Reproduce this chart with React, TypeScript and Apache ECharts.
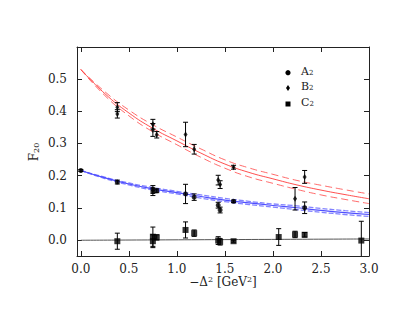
import React, { useEffect, useRef } from "react";
import * as echarts from "echarts";

// ---- tick values ----
const xTicks = [0, 0.5, 1.0, 1.5, 2.0, 2.5, 3.0];
const yTicks = [0, 0.1, 0.2, 0.3, 0.4, 0.5];

// ---- fit curves ----
const curveX = [0, 0.25, 0.5, 0.75, 1.0, 1.25, 1.5, 1.75, 2.0, 2.25, 2.5, 2.75, 3.0];
const b2Fit = [0.530, 0.455, 0.395, 0.347, 0.308, 0.270, 0.236, 0.210, 0.190, 0.171, 0.155, 0.141, 0.128];
const b2FitUpper = [0.530, 0.461, 0.404, 0.358, 0.320, 0.283, 0.249, 0.224, 0.204, 0.185, 0.170, 0.156, 0.143];
const b2FitLower = [0.530, 0.449, 0.386, 0.336, 0.296, 0.257, 0.223, 0.196, 0.176, 0.157, 0.140, 0.126, 0.113];
const a2Fit = [0.216, 0.193, 0.174, 0.159, 0.147, 0.135, 0.124, 0.115, 0.107, 0.100, 0.092, 0.085, 0.079];
const a2FitUpper = [0.216, 0.195, 0.177, 0.163, 0.151, 0.140, 0.129, 0.120, 0.112, 0.106, 0.098, 0.091, 0.085];
const a2FitLower = [0.216, 0.191, 0.171, 0.155, 0.143, 0.130, 0.119, 0.110, 0.102, 0.094, 0.086, 0.079, 0.073];
const c2FitX = [0, 1.5, 3.0];
const c2Fit = [-0.001, 0.001, 0.003];

// ---- data points ----
const a2X = [0.0, 0.38, 0.75, 0.75, 0.79, 1.09, 1.18, 1.43, 1.45, 1.59, 2.33];
const a2Y = [0.216, 0.180, 0.157, 0.150, 0.153, 0.143, 0.133, 0.108, 0.093, 0.120, 0.100];
const a2Err = [0.003, 0.006, 0.012, 0.012, 0.006, 0.030, 0.010, 0.009, 0.009, 0.004, 0.018];

const b2X = [0.38, 0.38, 0.75, 0.75, 0.79, 1.09, 1.18, 1.43, 1.45, 1.59, 2.23, 2.33];
const b2Y = [0.413, 0.392, 0.360, 0.342, 0.327, 0.328, 0.282, 0.186, 0.172, 0.226, 0.128, 0.196];
const b2Err = [0.014, 0.013, 0.015, 0.020, 0.010, 0.038, 0.015, 0.015, 0.012, 0.006, 0.035, 0.020];

const c2X = [0.38, 0.75, 0.75, 0.79, 1.09, 1.18, 1.43, 1.45, 1.59, 2.06, 2.23, 2.33, 2.92];
const c2Y = [-0.004, 0.010, -0.004, 0.008, 0.031, 0.021, -0.002, -0.006, -0.004, 0.009, 0.017, 0.016, -0.002];
const c2Err = [0.025, 0.030, 0.020, 0.008, 0.025, 0.010, 0.012, 0.010, 0.003, 0.026, 0.010, 0.007, 0.060];

const FONT = "DejaVu Serif";
const AXIS_COLOR = "#222";

function errorBarRender(_params: any, api: any) {
  const x = api.value(0);
  const lo = api.value(1);
  const hi = api.value(2);
  const top = api.coord([x, hi]);
  const bot = api.coord([x, lo]);
  const cap = 2.5;
  const style = { stroke: "#000", lineWidth: 1 };
  return {
    type: "group",
    children: [
      { type: "line", shape: { x1: top[0], y1: top[1], x2: bot[0], y2: bot[1] }, style },
      { type: "line", shape: { x1: top[0] - cap, y1: top[1], x2: top[0] + cap, y2: top[1] }, style },
      { type: "line", shape: { x1: bot[0] - cap, y1: bot[1], x2: bot[0] + cap, y2: bot[1] }, style },
    ],
  };
}

function pairs(xs: number[], ys: number[]) {
  return xs.map((x, i) => [x, ys[i]]);
}

function errData(xs: number[], ys: number[], es: number[]) {
  return xs.map((x, i) => [x, ys[i] - es[i], ys[i] + es[i]]);
}

function lineSeries(xs: number[], ys: number[], color: string, type: any, width = 1) {
  return {
    type: "line",
    data: pairs(xs, ys),
    smooth: true,
    symbol: "none",
    silent: true,
    z: 1,
    lineStyle: { color, width, type },
  };
}

function errSeries(xs: number[], ys: number[], es: number[]) {
  return {
    type: "custom",
    renderItem: errorBarRender,
    data: errData(xs, ys, es),
    encode: { x: 0, y: [1, 2] },
    clip: true,
    z: 3,
    silent: true,
  };
}

function scatterSeries(xs: number[], ys: number[], symbol: string, size: any) {
  return {
    type: "scatter",
    data: pairs(xs, ys),
    symbol,
    symbolSize: size,
    itemStyle: { color: "#000" },
    z: 4,
    silent: true,
  };
}

export default function App() {
  const ref = useRef<HTMLDivElement>(null);

  useEffect(() => {
    if (!ref.current) return;
    const chart = echarts.init(ref.current, undefined, { renderer: "svg" });

    const axisCommon = {
      type: "value",
      splitLine: { show: false },
      axisLine: { show: true, onZero: false, lineStyle: { color: AXIS_COLOR, width: 1 } },
    };

    const option: any = {
      animation: false,
      backgroundColor: "#fff",
      grid: { left: 77, top: 47, width: 292, height: 209, containLabel: false },
      xAxis: [
        {
          ...axisCommon,
          position: "bottom",
          min: -0.04,
          max: 3.0,
          axisTick: { show: true, inside: true, length: 5, customValues: xTicks, lineStyle: { color: AXIS_COLOR } },
          axisLabel: {
            show: true,
            customValues: xTicks,
            formatter: (v: number) => v.toFixed(1),
            fontFamily: FONT,
            fontSize: 12,
            color: AXIS_COLOR,
            margin: 7,
          },
        },
        {
          ...axisCommon,
          position: "top",
          min: -0.04,
          max: 3.0,
          axisTick: { show: true, inside: true, length: 5, customValues: xTicks, lineStyle: { color: AXIS_COLOR } },
          axisLabel: { show: false },
        },
      ],
      yAxis: [
        {
          ...axisCommon,
          position: "left",
          min: -0.05,
          max: 0.6,
          axisTick: { show: true, inside: true, length: 5, customValues: yTicks, lineStyle: { color: AXIS_COLOR } },
          axisLabel: {
            show: true,
            customValues: yTicks,
            formatter: (v: number) => v.toFixed(1),
            fontFamily: FONT,
            fontSize: 12,
            color: AXIS_COLOR,
            margin: 10,
          },
        },
        {
          ...axisCommon,
          position: "right",
          min: -0.05,
          max: 0.6,
          axisTick: { show: true, inside: true, length: 5, customValues: yTicks, lineStyle: { color: AXIS_COLOR } },
          axisLabel: { show: false },
        },
      ],
      series: [
        lineSeries(curveX, b2FitUpper, "rgba(255,70,70,0.8)", [7, 4]),
        lineSeries(curveX, b2Fit, "rgba(255,60,60,0.9)", "solid"),
        lineSeries(curveX, b2FitLower, "rgba(255,70,70,0.8)", [7, 4]),
        lineSeries(curveX, a2FitUpper, "rgba(90,90,255,0.75)", [5, 2], 1.3),
        lineSeries(curveX, a2Fit, "rgba(60,60,255,0.9)", "solid", 1.2),
        lineSeries(curveX, a2FitLower, "rgba(90,90,255,0.75)", [5, 2], 1.3),
        lineSeries(c2FitX, c2Fit, "#555", "solid", 1),
        errSeries(a2X, a2Y, a2Err),
        errSeries(b2X, b2Y, b2Err),
        errSeries(c2X, c2Y, c2Err),
        scatterSeries(a2X, a2Y, "circle", 5),
        scatterSeries(b2X, b2Y, "diamond", [4, 6]),
        scatterSeries(c2X, c2Y, "rect", 6),
      ],
      graphic: [
        {
          type: "text",
          x: 36,
          y: 152,
          rotation: Math.PI / 2,
          style: {
            text: "{m|F}{s|20}",
            align: "center",
            verticalAlign: "middle",
            rich: {
              m: { fontFamily: FONT, fontSize: 12, fill: AXIS_COLOR, padding: [0, 0, 4, 0] },
              s: { fontFamily: FONT, fontSize: 8, fill: AXIS_COLOR },
            },
          },
        },
        {
          type: "text",
          x: 223,
          y: 282,
          style: {
            text: "{m|\u2212\u0394}{p|2}{m| [GeV}{p|2}{m|]}",
            align: "center",
            verticalAlign: "middle",
            rich: {
              m: { fontFamily: FONT, fontSize: 12, fill: AXIS_COLOR },
              p: { fontFamily: FONT, fontSize: 8, fill: AXIS_COLOR, padding: [0, 0, 5, 0] },
            },
          },
        },
        { type: "circle", shape: { cx: 288, cy: 72.7, r: 2.6 }, style: { fill: "#000" } },
        { type: "polygon", shape: { points: [[288, 85], [290, 88], [288, 91], [286, 88]] }, style: { fill: "#000" } },
        { type: "rect", shape: { x: 285.5, y: 101.5, width: 5, height: 5 }, style: { fill: "#000" } },
        ...[
          { t: "A", y: 72.7 },
          { t: "B", y: 88 },
          { t: "C", y: 104 },
        ].map((d) => ({
          type: "text",
          x: 301,
          y: d.y,
          style: {
            text: `{m|${d.t}}{s|2}`,
            align: "left",
            verticalAlign: "middle",
            rich: {
              m: { fontFamily: FONT, fontSize: 11, fill: AXIS_COLOR, padding: [0, 0, 3, 0] },
              s: { fontFamily: FONT, fontSize: 7, fill: AXIS_COLOR },
            },
          },
        })),
      ],
    };

    chart.setOption(option);
    return () => chart.dispose();
  }, []);

  return <div ref={ref} style={{ width: 409, height: 316, margin: -8 }} />;
}
